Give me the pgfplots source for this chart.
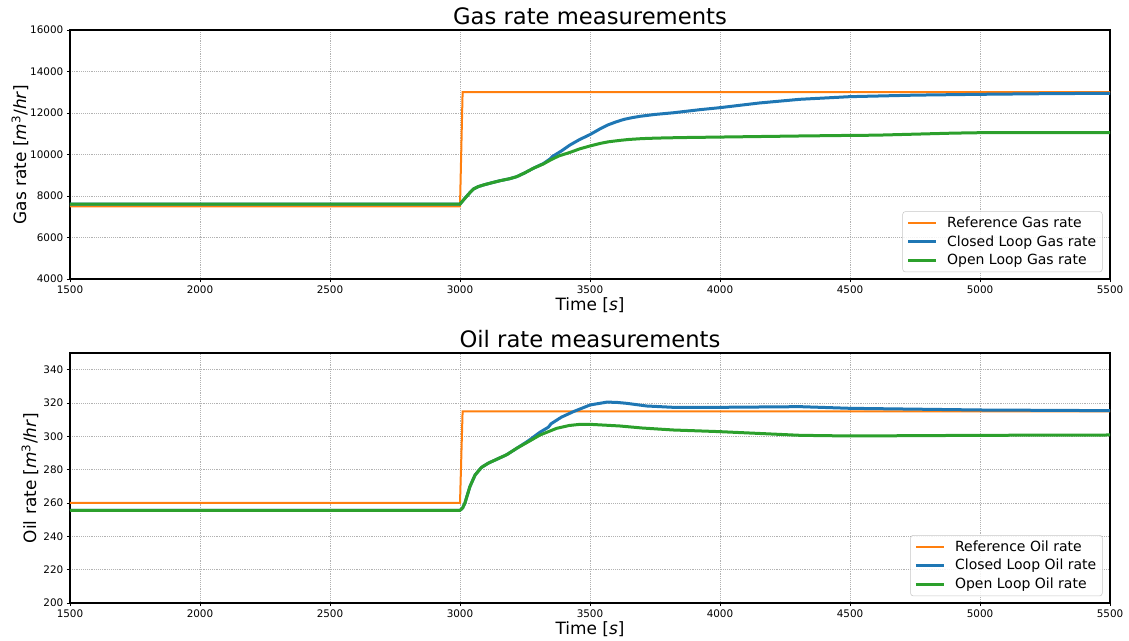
\documentclass[border=0pt]{standalone}
\usepackage{fontspec}
\setmainfont{DejaVu Sans}
\usepackage{pgfplots}
\pgfplotsset{compat=1.18}
\definecolor{mplorange}{HTML}{FF7F0E}
\definecolor{mplblue}{HTML}{1F77B4}
\definecolor{mplgreen}{HTML}{2CA02C}
\pgfplotsset{
  common/.style={
    scale only axis,
    width=780pt,
    xmin=1500, xmax=5500,
    xtick={1500,2000,...,5500},
    scaled ticks=false,
    /pgf/number format/.cd, 1000 sep={}, assume math mode=true, /pgfplots/.cd,
    tick pos=left,
    tick align=outside,
    major tick length=2.4pt,
    tick style={black, line width=0.6pt},
    tick label style={font=\fontsize{7.8}{9}\selectfont, inner sep=0pt},
    xticklabel style={yshift=-2.4pt},
    yticklabel style={xshift=-2.4pt},
    axis line style={line width=0.8pt},
    grid=major,
    major grid style={densely dotted, black!30, line width=0.6pt},
    label style={font=\fontsize{12.7}{14}\selectfont, inner sep=0pt},
    title style={font=\fontsize{17}{19}\selectfont, inner sep=0pt, at={(axis description cs:0.5,1)}, yshift=4.6pt, anchor=center},
    xlabel style={at={(axis description cs:0.5,-0.106)}, anchor=center},
    legend style={at={(axis description cs:1,0)}, anchor=south east, xshift=-5.6pt, yshift=5.1pt,
      draw=black!22, rounded corners=2pt, fill=white, fill opacity=0.85, text opacity=1,
      font=\fontsize{10.5}{12.5}\selectfont, row sep=1.2pt, inner xsep=2.9pt, inner ysep=2.5pt,
      nodes={inner sep=1.6pt},
      /tikz/every odd column/.append style={column sep=5.6pt}},
    legend cell align=left,
    legend image code/.code={\draw[##1] (0pt,0pt) -- (21pt,0pt);},
  },
  refl/.style={color=mplorange, line width=1.5pt},
  cll/.style={color=mplblue, line width=2.25pt},
  oll/.style={color=mplgreen, line width=2.25pt},
}
\begin{document}
\begin{tikzpicture}
\path (0,0) rectangle (846.75pt,480.75pt);
% ---------------- Gas ----------------
\begin{axis}[common,
  at={(52.5pt,271.5pt)}, anchor=south west,
  height=186.75pt,
  ymin=4000, ymax=16000,
  ytick={4000,6000,...,16000},
  title={Gas rate measurements},
  xlabel={Time [\textit{s}]},
  ylabel={Gas rate [\textit{m}\textsuperscript{3}/\textit{hr}]},
  ylabel style={at={(axis description cs:-0.0481,0.5)}, anchor=center},
]
\addplot[refl] coordinates {(1500,7500) (3000,7500) (3010,13000) (5500,13000)};
\addlegendentry{Reference Gas rate}
\addplot[cll] coordinates {
(1500,7610) (3000,7610) (3019,7890) (3038,8160) (3051,8330) (3070,8450) (3090,8530)
(3120,8630) (3154,8737) (3190,8830) (3218,8930) (3250,9120) (3282,9335) (3320,9560)
(3346,9780) (3355,9900) (3390,10170) (3423,10458) (3460,10720) (3500,10960) (3538,11230)
(3570,11430) (3600,11570) (3630,11690) (3660,11770) (3692,11840) (3750,11930) (3820,12010) (3923,12160)
(4000,12257) (4150,12480) (4308,12660) (4500,12787) (4750,12860) (5000,12900) (5250,12930)
(5500,12950)};
\addlegendentry{Closed Loop Gas rate}
\addplot[oll] coordinates {
(1500,7610) (3000,7610) (3019,7890) (3038,8160) (3051,8330) (3070,8450) (3090,8530)
(3120,8630) (3154,8737) (3190,8830) (3218,8930) (3250,9120) (3282,9335) (3320,9540)
(3346,9720) (3380,9930) (3423,10100) (3460,10270) (3500,10410) (3538,10530) (3570,10610)
(3615,10680) (3650,10725) (3700,10765) (3756,10790) (3850,10815) (4000,10840) (4308,10892) (4500,10920)
(4600,10930) (4750,10980) (4900,11030) (5000,11050) (5500,11050)};
\addlegendentry{Open Loop Gas rate}
\end{axis}
% ---------------- Oil ----------------
\begin{axis}[common,
  at={(52.5pt,28.5pt)}, anchor=south west,
  height=187.5pt,
  ymin=200, ymax=350,
  ytick={200,220,...,340},
  title={Oil rate measurements},
  xlabel={Time [\textit{s}]},
  ylabel={Oil rate [\textit{m}\textsuperscript{3}/\textit{hr}]},
  ylabel style={at={(axis description cs:-0.0385,0.5)}, anchor=center},
]
\addplot[refl] coordinates {(1500,260) (3000,260) (3010,315) (5500,315)};
\addlegendentry{Reference Oil rate}
\addplot[cll] coordinates {
(1500,255.5) (3000,255.6) (3010,257) (3019,260) (3038,269.8) (3058,276.8) (3083,281.4)
(3110,284) (3141,286.2) (3180,289) (3218,292.8) (3260,297) (3308,302.5) (3340,305.5)
(3350,307.5) (3390,311.5) (3436,314.8) (3500,318.8) (3564,320.5) (3600,320.4) (3641,319.8)
(3718,318.2) (3820,317.4) (4000,317.4) (4308,317.8) (4500,316.8) (5000,315.8) (5500,315.4)};
\addlegendentry{Closed Loop Oil rate}
\addplot[oll] coordinates {
(1500,255.5) (3000,255.6) (3010,257) (3019,260) (3038,269.8) (3058,276.8) (3083,281.4)
(3110,284) (3141,286.2) (3180,289) (3218,292.8) (3260,296.5) (3308,300.8) (3372,304.8)
(3420,306.5) (3462,307.2) (3500,307.2) (3615,306.2) (3700,305.0) (3820,303.8) (4000,302.8)
(4308,300.6) (4500,300.2) (5000,300.6) (5500,300.8)};
\addlegendentry{Open Loop Oil rate}
\end{axis}
\end{tikzpicture}
\end{document}
